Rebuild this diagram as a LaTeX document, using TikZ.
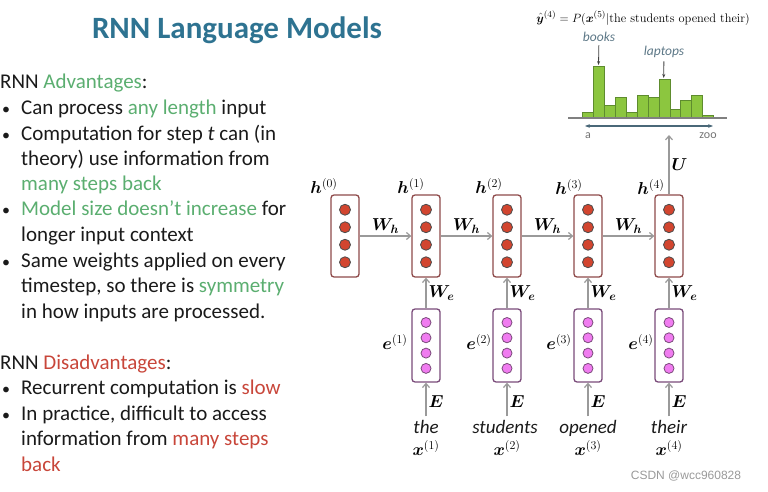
\documentclass[tikz,border=0pt]{standalone}
\usepackage{amsmath}
\usepackage{bm}
\usepackage{xcolor}
\usepackage{fontspec}
\newfontfamily\slidefont{Carlito}
\newfontfamily\markfont{Liberation Sans}
\usetikzlibrary{arrows.meta,positioning}
\definecolor{titleblue}{HTML}{2E7391}
\definecolor{goodgreen}{HTML}{5BAE70}
\definecolor{badred}{HTML}{C8463A}
\definecolor{ink}{HTML}{1A1A1A}
\definecolor{hidfill}{HTML}{D2452F}
\definecolor{hidline}{HTML}{8E4A4A}
\definecolor{embfill}{HTML}{F07CF0}
\definecolor{embline}{HTML}{7A4B7A}
\definecolor{barfill}{HTML}{8CC63F}
\definecolor{barline}{HTML}{5E8C2E}
\definecolor{wire}{HTML}{9A9A9A}
\definecolor{slate}{HTML}{4A6878}
\tikzset{
  txt/.style={font=\slidefont\fontsize{21}{25}\selectfont, text=ink, anchor=base west, inner sep=0pt},
  dot/.style={font=\slidefont\fontsize{16}{25}\selectfont, text=ink, anchor=base west, inner sep=0pt},
  hid/.style={draw=hidline, line width=1.3pt, rounded corners=3pt, fill=white, minimum width=28pt, minimum height=82pt},
  emb/.style={draw=embline, line width=1.3pt, rounded corners=3pt, fill=white, minimum width=28pt, minimum height=73pt},
  hdot/.style={draw=black!70, fill=hidfill, line width=0.8pt},
  edot/.style={draw=embline, fill=embfill, line width=0.8pt},
  arr/.style={-{Straight Barb[length=4pt, width=7pt]}, draw=wire, line width=1.2pt},
  lab/.style={font=\fontsize{17}{19}\selectfont, inner sep=1pt},
  wlab/.style={font=\fontsize{18}{20}\selectfont, inner sep=2pt},
  word/.style={font=\slidefont\itshape\fontsize{19}{22}\selectfont, text=ink, inner sep=1pt, text height=12pt, text depth=3pt},
  bar/.style={draw=barline, fill=barfill, line width=0.8pt},
  hlab/.style={font=\slidefont\itshape\fontsize{13.5}{15}\selectfont, text=slate!90},
  pointer/.style={-{Stealth[length=4pt]}, draw=black!75, line width=0.8pt},
  axlab/.style={font=\slidefont\fontsize{12}{14}\selectfont, text=black!55}
}
\begin{document}
\begin{tikzpicture}[x=1pt, y=-1pt]
\useasboundingbox (0,0) rectangle (768,492);

\node[font=\slidefont\bfseries\fontsize{31}{35}\selectfont, text=titleblue] (title) at (237,30) {RNN Language Models};

% advantages
\node[txt] (adv) at (0,89) {RNN \textcolor{goodgreen}{Advantages}:};
\node[dot] (a1) at (2,114) {•};
\node[txt] (a1t) at (21,114) {Can process \textcolor{goodgreen}{any length} input};
\node[dot] (a2) at (2,140) {•};
\node[txt] (a2t) at (21,140) {Computation for step \textit{t} can (in};
\node[txt] (a2u) at (21,165) {theory) use information from};
\node[txt] (a2v) at (21,190) {\textcolor{goodgreen}{many steps back}};
\node[dot] (a3) at (2,215) {•};
\node[txt] (a3t) at (21,215) {\textcolor{goodgreen}{Model size doesn’t increase} for};
\node[txt] (a3u) at (21,241) {longer input context};
\node[dot] (a4) at (2,267) {•};
\node[txt] (a4t) at (21,267) {Same weights applied on every};
\node[txt] (a4u) at (21,292) {timestep, so there is \textcolor{goodgreen}{symmetry}};
\node[txt] (a4v) at (21,318) {in how inputs are processed.};

% disadvantages
\node[txt] (dis) at (0,369) {RNN \textcolor{badred}{Disadvantages}:};
\node[dot] (d1) at (2,394) {•};
\node[txt] (d1t) at (21,394) {Recurrent computation is \textcolor{badred}{slow}};
\node[dot] (d2) at (2,420) {•};
\node[txt] (d2t) at (21,420) {In practice, difficult to access};
\node[txt] (d2u) at (21,445) {information from \textcolor{badred}{many steps}};
\node[txt] (d2v) at (21,471) {\textcolor{badred}{back}};

% hidden states
\node[hid] (h0) at (345,236) {};
\node[hid] (h1) at (426,236) {};
\node[hid] (h2) at (507,236) {};
\node[hid] (h3) at (588,236) {};
\node[hid] (h4) at (669,236) {};
\foreach \x in {345,426,507,588,669}
  \foreach \y in {209.75,227.25,244.75,262.25}
    \draw[hdot] (\x,\y) circle (5.5pt);
\node[lab] (lh0) at (324,186) {$\bm{h}^{(0)}$};
\node[lab] (lh1) at (411,186) {$\bm{h}^{(1)}$};
\node[lab] (lh2) at (489,186) {$\bm{h}^{(2)}$};
\node[lab] (lh3) at (569,187) {$\bm{h}^{(3)}$};
\node[lab] (lh4) at (651,187) {$\bm{h}^{(4)}$};

% embeddings
\node[emb] (e1) at (426,345.5) {};
\node[emb] (e2) at (507,345.5) {};
\node[emb] (e3) at (588,345.5) {};
\node[emb] (e4) at (669,345.5) {};
\foreach \x in {426,507,588,669}
  \foreach \y in {322.5,337.8,353.1,368.4}
    \draw[edot] (\x,\y) circle (5pt);
\node[lab] (le1) at (395,342) {$\bm{e}^{(1)}$};
\node[lab] (le2) at (479,342) {$\bm{e}^{(2)}$};
\node[lab] (le3) at (559,342) {$\bm{e}^{(3)}$};
\node[lab] (le4) at (641,342) {$\bm{e}^{(4)}$};

% words
\node[word] (w1) at (426,429) {the};
\node[word] (w2) at (505,429) {students};
\node[word] (w3) at (588,429) {opened};
\node[word] (w4) at (669,429) {their};
\node[lab] (x1) at (426,448) {$\bm{x}^{(1)}$};
\node[lab] (x2) at (507,448) {$\bm{x}^{(2)}$};
\node[lab] (x3) at (588,448) {$\bm{x}^{(3)}$};
\node[lab] (x4) at (669,448) {$\bm{x}^{(4)}$};

% connections
\draw[arr] (h0) -- node[wlab, above]{$\bm{W}_{\bm{h}}$} (h1);
\draw[arr] (h1) -- node[wlab, above]{$\bm{W}_{\bm{h}}$} (h2);
\draw[arr] (h2) -- node[wlab, above]{$\bm{W}_{\bm{h}}$} (h3);
\draw[arr] (h3) -- node[wlab, above]{$\bm{W}_{\bm{h}}$} (h4);
\draw[arr] (e1) -- node[wlab, right]{$\bm{W}_{\bm{e}}$} (h1);
\draw[arr] (e2) -- node[wlab, right]{$\bm{W}_{\bm{e}}$} (h2);
\draw[arr] (e3) -- node[wlab, right]{$\bm{W}_{\bm{e}}$} (h3);
\draw[arr] (e4) -- node[wlab, right]{$\bm{W}_{\bm{e}}$} (h4);
\draw[arr, shorten <=4pt] (w1) -- node[wlab, right]{$\bm{E}$} (e1);
\draw[arr, shorten <=4pt] (w2.north -| e2) -- node[wlab, right]{$\bm{E}$} (e2);
\draw[arr, shorten <=4pt] (w3) -- node[wlab, right]{$\bm{E}$} (e3);
\draw[arr, shorten <=4pt] (w4) -- node[wlab, right]{$\bm{E}$} (e4);
\coordinate (out) at (669,135);
\draw[arr] (h4) -- node[wlab, right]{$\bm{U}$} (out);

% output distribution
\node[font=\fontsize{12.4}{14}\selectfont, inner sep=0pt] (yhat) at (643,18) {$\hat{\bm{y}}^{(4)} = P(\bm{x}^{(5)}|\text{the students opened their})$};
\foreach \hgt [count=\i from 0] in {6,52,13,21,6,23,21,39,9,18,23,3}
  \draw[bar] (582.7+\i*10.9,118) rectangle ++(10.9,-\hgt);
\draw[draw=black!50, line width=1.5pt] (568,118) -- (727,118);
\draw[{Stealth[length=5pt]}-{Stealth[length=5pt]}, draw=slate, line width=1.3pt] (585,126) -- (713,126);
\node[axlab] (alab) at (588,136) {a};
\node[axlab] (zlab) at (708,136) {zoo};
\node[hlab] (books) at (599,37) {books};
\coordinate (bookbar) at (598.5,65);
\draw[pointer] (books) -- (bookbar);
\node[hlab] (laptops) at (664,52) {laptops};
\coordinate (lapbar) at (663.7,78);
\draw[pointer] (laptops) -- (lapbar);

\node[font=\markfont\fontsize{12}{14}\selectfont, text=black!40] (mark) at (686,476) {CSDN @wcc960828};
\end{tikzpicture}
\end{document}
